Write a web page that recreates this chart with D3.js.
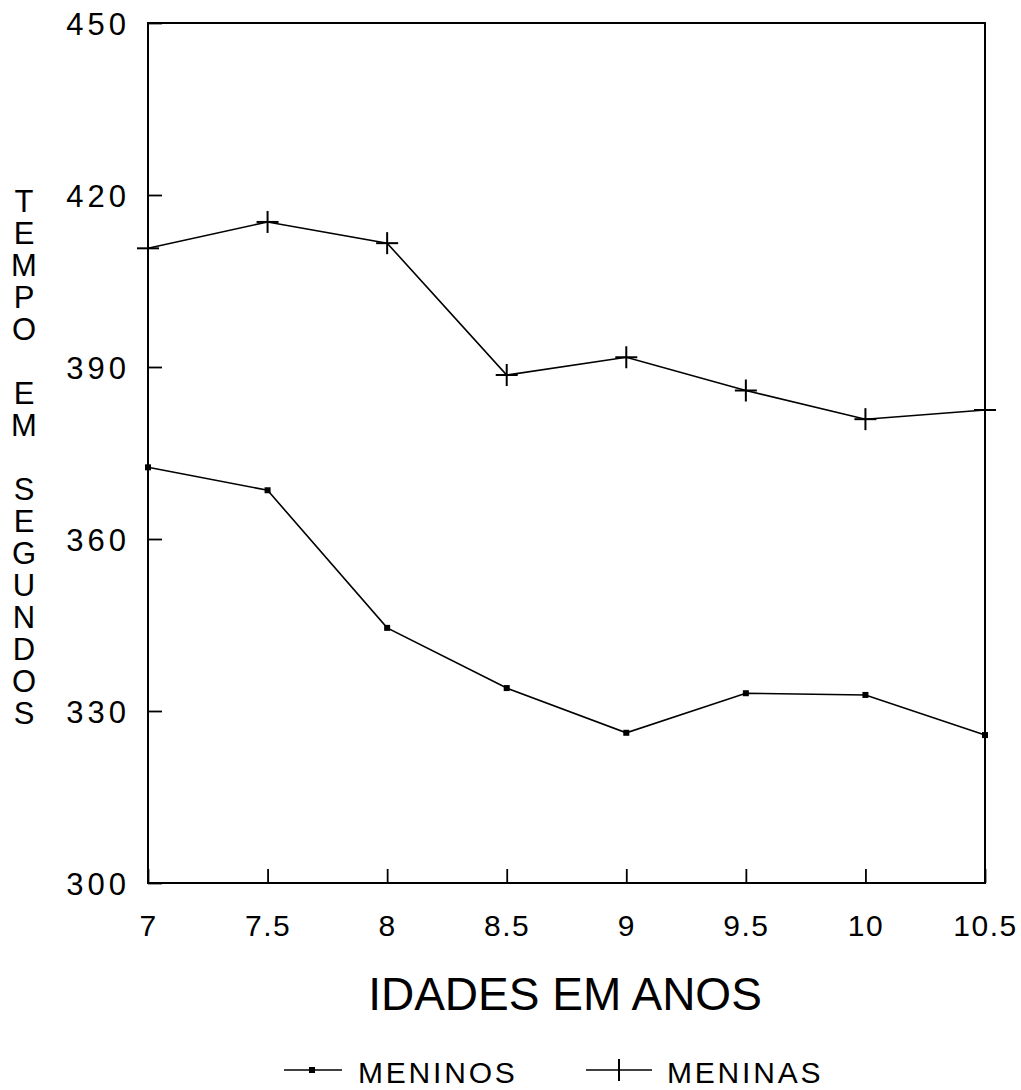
<!DOCTYPE html>
<html><head><meta charset="utf-8">
<script src="https://cdn.jsdelivr.net/npm/d3@7"></script>
<style>html,body{margin:0;padding:0;background:#fff;} svg{display:block;} text{font-family:"Liberation Sans",Arial,sans-serif;fill:#000;}</style>
</head><body>
<script>
const idades = [7, 7.5, 8, 8.5, 9, 9.5, 10, 10.5];
const meninos = [372.5, 368.5, 344.5, 334.0, 326.2, 333.1, 332.8, 325.8];
const meninas = [410.7, 415.3, 411.6, 388.6, 391.7, 385.9, 380.9, 382.5];
const yTicks = [300, 330, 360, 390, 420, 450];
const xTickLabels = ["7", "7.5", "8", "8.5", "9", "9.5", "10", "10.5"];
const yTitle = "TEMPO EM SEGUNDOS";
const xTitle = "IDADES EM ANOS";
const seriesNames = ["MENINOS", "MENINAS"];

const W = 1021, H = 1090;
const svg = d3.select("body").append("svg").attr("width", W).attr("height", H);

const x = d3.scaleLinear().domain([7, 10.5]).range([148, 985]);
const y = d3.scaleLinear().domain([300, 450]).range([883, 23]);

// frame
svg.append("rect").attr("x", x(7)).attr("y", y(450))
  .attr("width", x(10.5) - x(7)).attr("height", y(300) - y(450))
  .attr("fill", "none").attr("stroke", "#000").attr("stroke-width", 2);

// y axis ticks (inward)
const yAxis = d3.axisLeft(y).tickValues(yTicks).tickSize(-14).tickPadding(22).tickFormat(d3.format("d"));
const gy = svg.append("g").attr("transform", `translate(${x(7)},0)`).call(yAxis);
gy.select(".domain").remove();
gy.selectAll("line").attr("stroke", "#000").attr("stroke-width", 1.8);
gy.selectAll("text").attr("font-size", 31).attr("letter-spacing", 4).attr("dx", 4).attr("dy", "0.36em");

// x axis ticks (inward)
const xAxis = d3.axisBottom(x).tickValues(idades).tickSize(-14)
  .tickFormat((d, i) => xTickLabels[i]);
const gx = svg.append("g").attr("transform", `translate(0,${y(300)})`).call(xAxis);
gx.select(".domain").remove();
gx.selectAll("line").attr("stroke", "#000").attr("stroke-width", 1.8);
gx.selectAll("text").attr("font-size", 30).attr("letter-spacing", 1.5).attr("y", 53).attr("dy", 0);

// y title stacked letters
const yt = svg.append("text").attr("font-size", 31).attr("text-anchor", "middle");
yTitle.split("").forEach((ch, i) => {
  yt.append("tspan").attr("x", 24).attr("y", 212 + i * 32).text(ch === " " ? "\u00a0" : ch);
});

// x title
svg.append("text").attr("x", 565).attr("y", 1010).attr("font-size", 46)
  .attr("text-anchor", "middle").text(xTitle);

const line = d3.line().x((d, i) => x(idades[i])).y(d => y(d));

// meninos
svg.append("path").datum(meninos).attr("d", line).attr("fill", "none")
  .attr("stroke", "#000").attr("stroke-width", 1.6);
svg.selectAll(".sq").data(meninos).enter().append("rect")
  .attr("x", (d, i) => x(idades[i]) - 3).attr("y", d => y(d) - 3)
  .attr("width", 6).attr("height", 6).attr("fill", "#000");

// meninas
svg.append("path").datum(meninas).attr("d", line).attr("fill", "none")
  .attr("stroke", "#000").attr("stroke-width", 1.6);
const cs = 11;
const crosses = svg.selectAll(".cr").data(meninas).enter().append("g")
  .attr("transform", (d, i) => `translate(${x(idades[i])},${y(d)})`);
crosses.append("line").attr("x1", -cs).attr("x2", cs).attr("y1", 0).attr("y2", 0)
  .attr("stroke", "#000").attr("stroke-width", 2);
crosses.append("line").attr("x1", 0).attr("x2", 0).attr("y1", -cs).attr("y2", cs)
  .attr("stroke", "#000").attr("stroke-width", 2);

// legend
const ly = 1070;
svg.append("line").attr("x1", 284).attr("x2", 342).attr("y1", ly).attr("y2", ly)
  .attr("stroke", "#000").attr("stroke-width", 1.6);
svg.append("rect").attr("x", 309).attr("y", ly - 3).attr("width", 6).attr("height", 6).attr("fill", "#000");
svg.append("text").attr("x", 358).attr("y", 1083).attr("font-size", 30).attr("letter-spacing", 2.8).text(seriesNames[0]);

svg.append("line").attr("x1", 586).attr("x2", 652).attr("y1", ly).attr("y2", ly)
  .attr("stroke", "#000").attr("stroke-width", 1.6);
svg.append("line").attr("x1", 619).attr("x2", 619).attr("y1", ly - 11).attr("y2", ly + 11)
  .attr("stroke", "#000").attr("stroke-width", 2);
svg.append("text").attr("x", 667).attr("y", 1083).attr("font-size", 30).attr("letter-spacing", 2.8).text(seriesNames[1]);
</script>
</body></html>
